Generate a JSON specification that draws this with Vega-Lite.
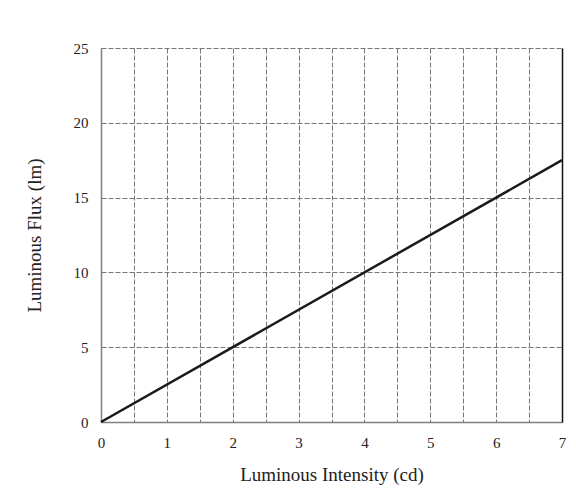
{
  "$schema": "https://vega.github.io/schema/vega-lite/v6.json",
  "width": 461,
  "height": 374,
  "autosize": "none",
  "padding": {"left": 101, "top": 48, "right": 14, "bottom": 75},
  "background": "white",
  "config": {
    "view": {"stroke": null},
    "font": "Liberation Serif",
    "axis": {
      "labelFont": "Liberation Serif",
      "titleFont": "Liberation Serif",
      "labelColor": "#222",
      "titleColor": "#222",
      "labelFontSize": 15,
      "titleFontSize": 19,
      "titleFontWeight": "normal",
      "labelFlush": false,
      "ticks": false,
      "gridColor": "#777",
      "gridDash": [5, 2],
      "gridWidth": 1,
      "gridOpacity": 1,
      "domainColor": "#808080",
      "domainWidth": 1.5
    }
  },
  "data": {"values": [{"intensity": 0, "flux": 0}, {"intensity": 7, "flux": 17.5}]},
  "layer": [
    {
      "mark": {"type": "line", "color": "#1a1a1a", "strokeWidth": 2.5},
      "encoding": {
        "x": {
          "field": "intensity", "type": "quantitative",
          "scale": {"domain": [0, 7], "nice": false},
          "axis": {
            "title": "Luminous Intensity (cd)",
            "values": [0, 0.5, 1, 1.5, 2, 2.5, 3, 3.5, 4, 4.5, 5, 5.5, 6, 6.5, 7],
            "labelExpr": "datum.value % 1 === 0 ? format(datum.value, 'd') : ''",
            "labelOverlap": false,
            "labelPadding": 13,
            "titlePadding": 15
          }
        },
        "y": {
          "field": "flux", "type": "quantitative",
          "scale": {"domain": [0, 25], "nice": false},
          "axis": {
            "title": "Luminous Flux (lm)",
            "values": [0, 5, 10, 15, 20, 25],
            "labelPadding": 13,
            "titlePadding": 29
          }
        }
      }
    },
    {
      "mark": {"type": "line", "opacity": 0},
      "encoding": {
        "y": {
          "field": "flux", "type": "quantitative",
          "axis": {"orient": "right", "labels": false, "grid": false, "title": null, "domainColor": "#111", "domainWidth": 1.5}
        }
      }
    }
  ],
  "resolve": {"axis": {"y": "independent"}}
}
